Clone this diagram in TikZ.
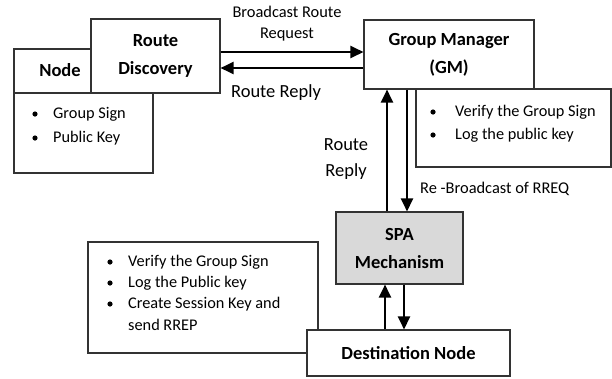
\documentclass[tikz,border=0pt]{standalone}
\usepackage{fontspec}
\setmainfont{Carlito}
\usetikzlibrary{arrows.meta}
\begin{document}
\begin{tikzpicture}[x=1pt,y=-1pt,
  bx/.style={draw=black!80,line width=1.1pt,fill=white,inner sep=0pt,align=center,
    font=\fontsize{18.5}{28}\selectfont\bfseries},
  btxt/.style={inner sep=0pt,font=\fontsize{18.5}{28}\selectfont\bfseries},
  lbl/.style={inner sep=0pt,font=\fontsize{18.5}{27}\selectfont},
  sml/.style={inner sep=0pt,font=\fontsize{16.4}{20}\selectfont},
  bul/.style={inner sep=0pt,anchor=west,font=\fontsize{16.3}{20}\selectfont},
  arr/.style={line width=2.4pt,-{Triangle[length=13pt,width=12pt]}}]
\useasboundingbox (0,0) rectangle (612,378);
% Node
\node[bx,minimum width=139pt,minimum height=80pt] (nodeb) at (83.5,133) {};
\node[bx,minimum width=77pt,minimum height=44pt] (nodeh) at (52.5,71) {};
\node[btxt] (nodet) at (60,70) {Node};
\node[bx,minimum width=129pt,minimum height=74pt] (rd) at (155.5,56) {Route\\Discovery};
\fill (35,114) circle (2.6pt);
\node[bul] (nb1) at (53,114) {Group Sign};
\fill (35,138) circle (2.6pt);
\node[bul] (nb2) at (53,138) {Public Key};
% GM
\node[bx,minimum width=195pt,minimum height=78pt] (gmb) at (513.5,128) {};
\node[bx,minimum width=170pt,minimum height=69pt] (gm) at (449,54.5) {Group Manager\\(GM)};
\fill (433,112) circle (2.6pt);
\node[bul] (gb1) at (455,112) {Verify the Group Sign};
\fill (433,135) circle (2.6pt);
\node[bul] (gb2) at (455,135) {Log the public key};
% SPA
\node[bx,fill=black!15,minimum width=127pt,minimum height=72pt] (spa) at (399.5,248) {SPA\\Mechanism};
% Destination
\node[bx,minimum width=230pt,minimum height=111pt] (db) at (203,297.5) {};
\fill (110,262) circle (2.6pt);
\node[bul] (db1) at (128,262) {Verify the Group Sign};
\fill (110,283) circle (2.6pt);
\node[bul] (db2) at (128,283) {Log the Public key};
\fill (110,304) circle (2.6pt);
\node[bul] (db3) at (128,304) {Create Session Key and};
\node[bul] (db4) at (128,325) {send RREP};
\node[bx,minimum width=203pt,minimum height=46pt] (dest) at (408.5,353) {Destination Node};
% arrows RD <-> GM
\coordinate (a1) at ([yshift=4pt]rd.east);
\coordinate (a2) at ([yshift=-12pt]rd.east);
\draw[arr] (a1) -- (a1 -| gm.west);
\draw[arr] (a2 -| gm.west) -- (a2);
% arrows GM <-> SPA
\coordinate (v1) at ([xshift=-12.5pt]spa.north);
\coordinate (v2) at ([xshift=7.5pt]spa.north);
\draw[arr] (v1) -- (v1 |- gm.south);
\draw[arr] (v2 |- gm.south) -- (v2);
% arrows SPA <-> Dest
\coordinate (w1) at ([xshift=-14.5pt]spa.south);
\coordinate (w2) at ([xshift=4.5pt]spa.south);
\draw[arr] (w1 |- dest.north) -- (w1);
\draw[arr] (w2) -- (w2 |- dest.north);
% labels
\node[sml] (l1) at (287,12) {Broadcast Route};
\node[sml] (l2) at (287,35) {Request};
\node[lbl] (l3) at (276,93) {Route Reply};
\node[lbl] (l4) at (346,145) {Route};
\node[lbl] (l5) at (346,172) {Reply};
\node[sml,anchor=west] (l6) at (420,189) {Re -Broadcast of RREQ};
\end{tikzpicture}
\end{document}
